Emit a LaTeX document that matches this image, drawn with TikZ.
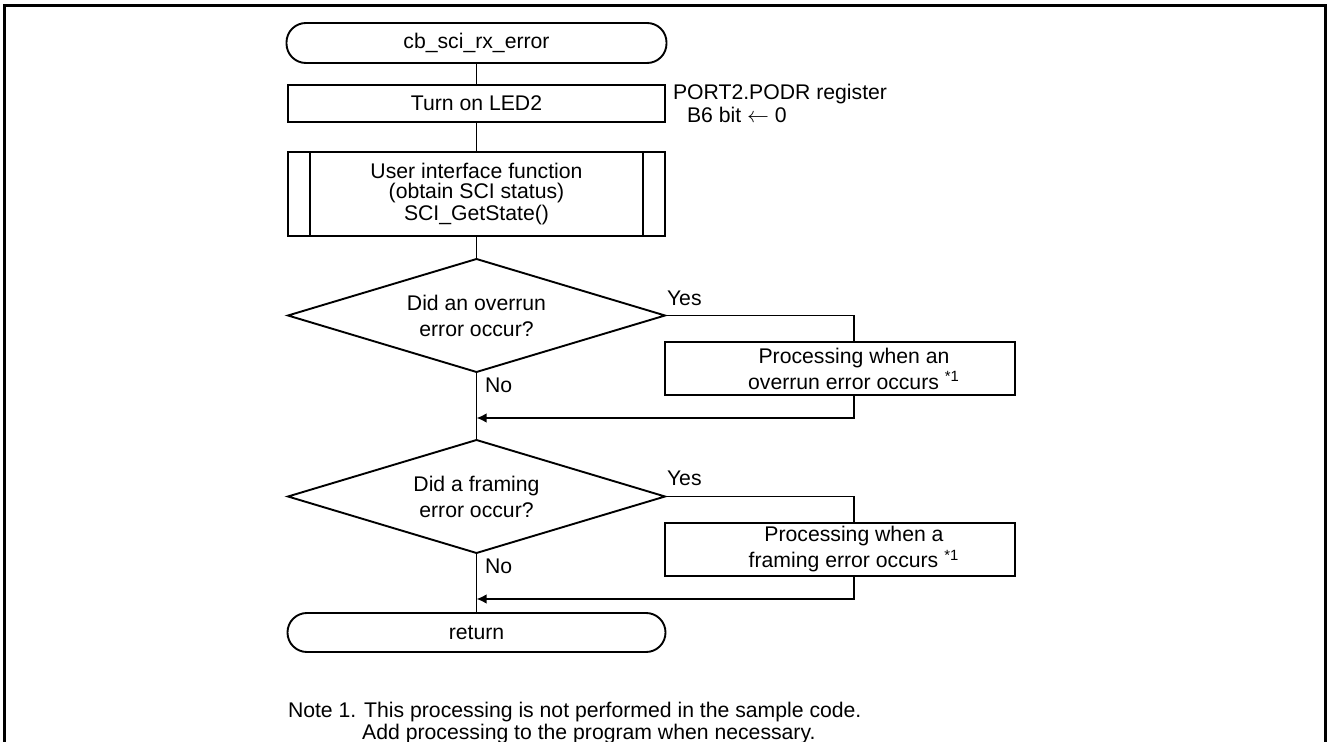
\documentclass[tikz,border=0pt]{standalone}
\usepackage{fontspec}
\setmainfont{Liberation Sans}
\usetikzlibrary{arrows.meta}
\begin{document}
\begin{tikzpicture}[x=0.5pt,y=-0.5pt,
  every node/.style={font=\fontsize{10.6}{13}\selectfont},
  line/.style={line width=0.95pt},
  proc/.style={draw,line width=0.95pt,rectangle,inner sep=0pt,outer sep=0pt,align=center},
  term/.style={draw,line width=0.95pt,rectangle,rounded corners=9.7pt,inner sep=0pt,outer sep=0pt},
  decision/.style={rectangle,inner sep=0pt,outer sep=0pt,align=center},
  lbl/.style={inner sep=0pt,outer sep=0pt},
  arr/.style={line width=0.95pt,-{Latex[length=5pt,width=4.8pt]}},
]
\useasboundingbox (0,0) rectangle (1328,742);
\draw[line width=1.5pt] (4.7,742) -- (4.7,5.8) -- (1325.8,5.8) -- (1325.8,742);

% main column
\node[term, minimum width=190pt, minimum height=20pt] (start) at (476.5,43) {cb\_sci\_rx\_error};
\node[proc, minimum width=188.5pt, minimum height=18.5pt] (led) at (476.5,103.5) {Turn on LED2};
\node[proc, minimum width=188.5pt, minimum height=42pt, font=\fontsize{10.6}{9.8}\selectfont] (ui) at (476.5,194)
  {User interface function\\(obtain SCI status)\\SCI\_GetState()};
\draw[line] ([xshift=11pt]ui.north west) -- ([xshift=11pt]ui.south west);
\draw[line] ([xshift=-11pt]ui.north east) -- ([xshift=-11pt]ui.south east);

\node[decision, minimum width=188.5pt, minimum height=56.5pt] (d1) at (476.5,315.5) {Did an overrun\\error occur?};
\draw[line] (d1.north) -- (d1.east) -- (d1.south) -- (d1.west) -- cycle;
\node[decision, minimum width=188.5pt, minimum height=56.5pt] (d2) at (476.5,496.5) {Did a framing\\error occur?};
\draw[line] (d2.north) -- (d2.east) -- (d2.south) -- (d2.west) -- cycle;
\node[term, minimum width=189pt, minimum height=19.5pt] (ret) at (476.5,632.5) {return};

% side boxes
\node[proc, minimum width=175pt, minimum height=26.5pt] (p1) at (840,368.5)
  {\hspace*{14pt}Processing when an\\\hspace*{14pt}overrun error occurs \textsuperscript{*1}};
\node[proc, minimum width=175pt, minimum height=26.5pt] (p2) at (840,549.5)
  {\hspace*{14pt}Processing when a\\\hspace*{14pt}framing error occurs \textsuperscript{*1}};

% labels
\node[lbl, anchor=north west, align=left, font=\fontsize{10.6}{11.4}\selectfont] (reg) at (673,84)
  {PORT2.PODR register\\\hspace*{7pt}B6 bit $\leftarrow$ 0};
\node[lbl, anchor=base west] (y1) at (667,306) {Yes};
\node[lbl, anchor=base west] (n1) at (485,393) {No};
\node[lbl, anchor=base west] (y2) at (667,486) {Yes};
\node[lbl, anchor=base west] (n2) at (485,574) {No};
\node[lbl, anchor=north west, align=left, font=\fontsize{10.6}{11.3}\selectfont] (note) at (288,702)
  {Note 1. This processing is not performed in the sample code.\\\phantom{Note 1.}\ Add processing to the program when necessary.};

% connectors
\coordinate (m1) at (476.5,418);
\coordinate (m2) at (476.5,599);
\draw[line] (start.south) -- (led.north);
\draw[line] (led.south) -- (ui.north);
\draw[line] (ui.south) -- (d1.north);
\draw[line] (d1.east) -| ([xshift=7pt]p1.north);
\draw[arr] ([xshift=7pt]p1.south) |- (m1);
\draw[line] (d1.south) -- (d2.north);
\draw[line] (d2.east) -| ([xshift=7pt]p2.north);
\draw[arr] ([xshift=7pt]p2.south) |- (m2);
\draw[line] (d2.south) -- (ret.north);
\end{tikzpicture}
\end{document}
